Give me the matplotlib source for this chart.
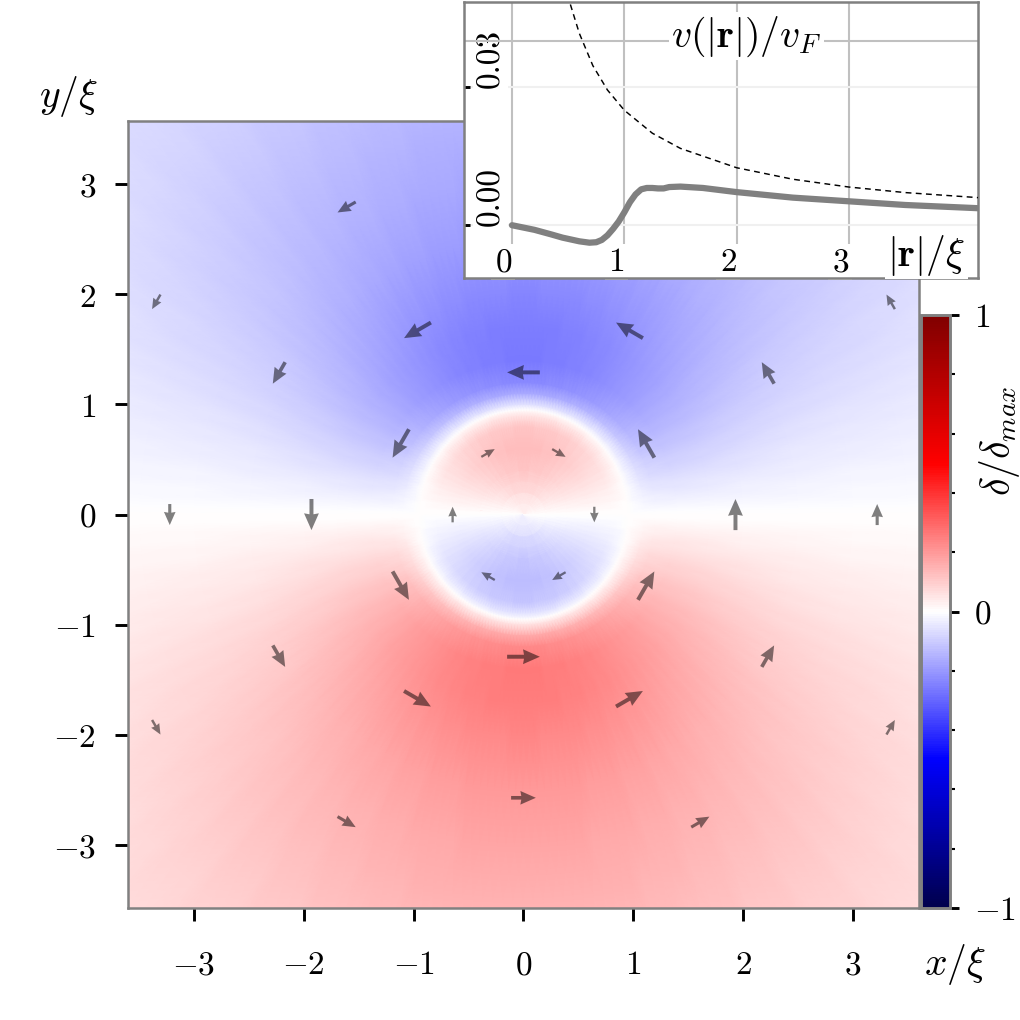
import numpy as np
import matplotlib
matplotlib.use("Agg")
import matplotlib.pyplot as plt
from matplotlib.ticker import MultipleLocator

plt.rcParams.update({
    "font.family": "serif",
    "font.serif": ["cmr10"],
    "mathtext.fontset": "cm",
    "axes.formatter.use_mathtext": True,
    "font.size": 8,
})

# radial profile of delta/delta_max (value along +y, negative = red above)
prof_r = [0.0, 0.2, 0.4, 0.6, 0.8, 0.9, 0.95, 1.0, 1.1, 1.2, 1.4, 1.7,
          2.0, 2.5, 3.0, 3.5, 4.0, 4.5, 5.2]
prof_g = [0.0, -0.07, -0.11, -0.13, -0.11, -0.05, 0.0, 0.06, 0.17, 0.23,
          0.26, 0.255, 0.235, 0.2, 0.175, 0.155, 0.135, 0.115, 0.095]

# inset: v(|r|)/v_F
v_r = [0.0, 0.1, 0.2, 0.35, 0.45, 0.6, 0.69, 0.75, 0.8, 0.85, 0.9, 0.95,
       1.0, 1.05, 1.1, 1.15, 1.2, 1.25, 1.3, 1.35, 1.4, 1.5, 1.7, 2.0,
       2.5, 3.0, 3.5, 4.15]
v_val = [0.0, -0.0005, -0.001, -0.002, -0.0027, -0.0035, -0.0038, -0.0037,
         -0.0032, -0.0022, -0.0008, 0.0008, 0.0028, 0.005, 0.0067, 0.0078,
         0.0081, 0.0081, 0.008, 0.008, 0.0083, 0.0084, 0.0081, 0.0072,
         0.006, 0.0052, 0.0044, 0.0037]
dash_r = [0.52, 0.6, 0.72, 0.85, 1.0, 1.25, 1.5, 2.0, 2.5, 3.0, 3.5, 4.15]
dash_val = [0.048, 0.0417, 0.0347, 0.0294, 0.025, 0.02, 0.0167, 0.0125,
            0.01, 0.0083, 0.0071, 0.006]

# velocity arrows, rings of 6
ring_r = [0.645, 1.29, 1.93, 2.57, 3.22, 3.86]
ring_speed = [-0.0037, 0.0078, 0.0074, 0.0059, 0.0050, 0.0040]
ring_offset = [0, 30, 0, 30, 0, 30]

fig = plt.figure(figsize=(3.403, 3.403), dpi=300)
ax = fig.add_axes([0.1254, 0.1097, 0.7747, 0.7708])

theta = np.linspace(0, 2 * np.pi, 241)
R, T = np.meshgrid(prof_r, theta)
G = np.tile(prof_g, (len(theta), 1))
pc = ax.pcolormesh(R * np.cos(T), R * np.sin(T), -G * np.sin(T),
                   shading="gouraud", cmap="seismic", vmin=-1, vmax=1,
                   rasterized=True)

qx, qy, qu, qv = [], [], [], []
for r0, s, off in zip(ring_r, ring_speed, ring_offset):
    ang = np.deg2rad(off + 60 * np.arange(6))
    qx += list(r0 * np.cos(ang))
    qy += list(r0 * np.sin(ang))
    qu += list(-s * np.sin(ang))
    qv += list(s * np.cos(ang))
ax.quiver(qx, qy, qu, qv, angles="xy", scale_units="xy", scale=0.0262,
          pivot="middle", width=0.005, headwidth=3.75, headlength=4.25,
          headaxislength=4, minshaft=1.6, color="k", alpha=0.5, zorder=3)

ax.set_xlim(-3.6, 3.6)
ax.set_ylim(-3.57, 3.57)
ax.set_xticks([-3, -2, -1, 0, 1, 2, 3])
ax.set_yticks([-3, -2, -1, 0, 1, 2, 3])
for sp in ax.spines.values():
    sp.set_color("gray")
    sp.set_linewidth(0.6)
ax.tick_params(direction="out", length=3.2, width=0.7)
ax.tick_params(axis="x", pad=7)
ax.tick_params(axis="y", pad=4.5)
fig.text(0.935, 0.055, r"$x/\xi$", fontsize=9.5, ha="center", va="center")
fig.text(0.0666, 0.905, r"$y/\xi$", fontsize=9.5, ha="center", va="center")

# colorbar
cax = fig.add_axes([0.902, 0.1097, 0.0284, 0.5808])
cb = fig.colorbar(pc, cax=cax, ticks=[-1, 0, 1])
cb.outline.set_edgecolor("gray")
cb.outline.set_linewidth(0.7)
cax.yaxis.set_minor_locator(MultipleLocator(0.2))
cax.tick_params(which="major", length=2.2, width=0.7, pad=3.5)
cax.tick_params(which="minor", length=1.2, width=0.5)
cax.text(2.72, 0.79, r"$\delta/\delta_{max}$", transform=cax.transAxes,
         rotation=90, ha="center", va="center", fontsize=9.5)

# inset
axi = fig.add_axes([0.4545, 0.7267, 0.5034, 0.2703])
axi.plot(v_r, v_val, color="gray", lw=1.5, solid_capstyle="round",
         solid_joinstyle="round", zorder=3)
axi.plot(dash_r, dash_val, color="k", ls="--", lw=0.35, dashes=(4, 3),
         zorder=3)
axi.set_xlim(-0.427, 4.148)
axi.set_ylim(-0.0115, 0.0485)
axi.set_xticks([0, 1, 2, 3])
axi.set_yticks([0, 0.03], labels=["0.00", "0.03"])
axi.set_yticks([0, 0.04], minor=True)
axi.grid(axis="x", color="#c0c0c0", lw=0.5)
axi.grid(axis="y", which="minor", color="#c0c0c0", lw=0.5)
axi.grid(axis="y", which="major", color="#f0f0f0", lw=0.5)
for sp in axi.spines.values():
    sp.set_color("gray")
    sp.set_linewidth(0.6)
axi.tick_params(direction="in", length=1.5, width=0.7)
axi.tick_params(which="minor", length=0)
axi.tick_params(axis="x", pad=-7.4)
axi.tick_params(axis="y", pad=-2.9)
for lab in axi.get_xticklabels():
    lab.set_ha("right")
    lab.set_bbox(dict(fc="white", ec="none", pad=0.8))
for lab in axi.get_yticklabels():
    lab.set_rotation(90)
    lab.set_ha("left")
    lab.set_va("bottom")
    lab.set_bbox(dict(fc="white", ec="none", pad=0.8))
axi.text(0.55, 0.877, r"$v(|\mathbf{r}|)/v_F$", transform=axi.transAxes,
         ha="center", va="center", fontsize=9.5,
         bbox=dict(fc="white", ec="none", pad=0.5))
axi.text(0.90, 0.087, r"$|\mathbf{r}|/\xi$", transform=axi.transAxes,
         ha="center", va="center", fontsize=9.5,
         bbox=dict(fc="white", ec="none", pad=0.5))

fig.savefig("out.png", dpi=300)
